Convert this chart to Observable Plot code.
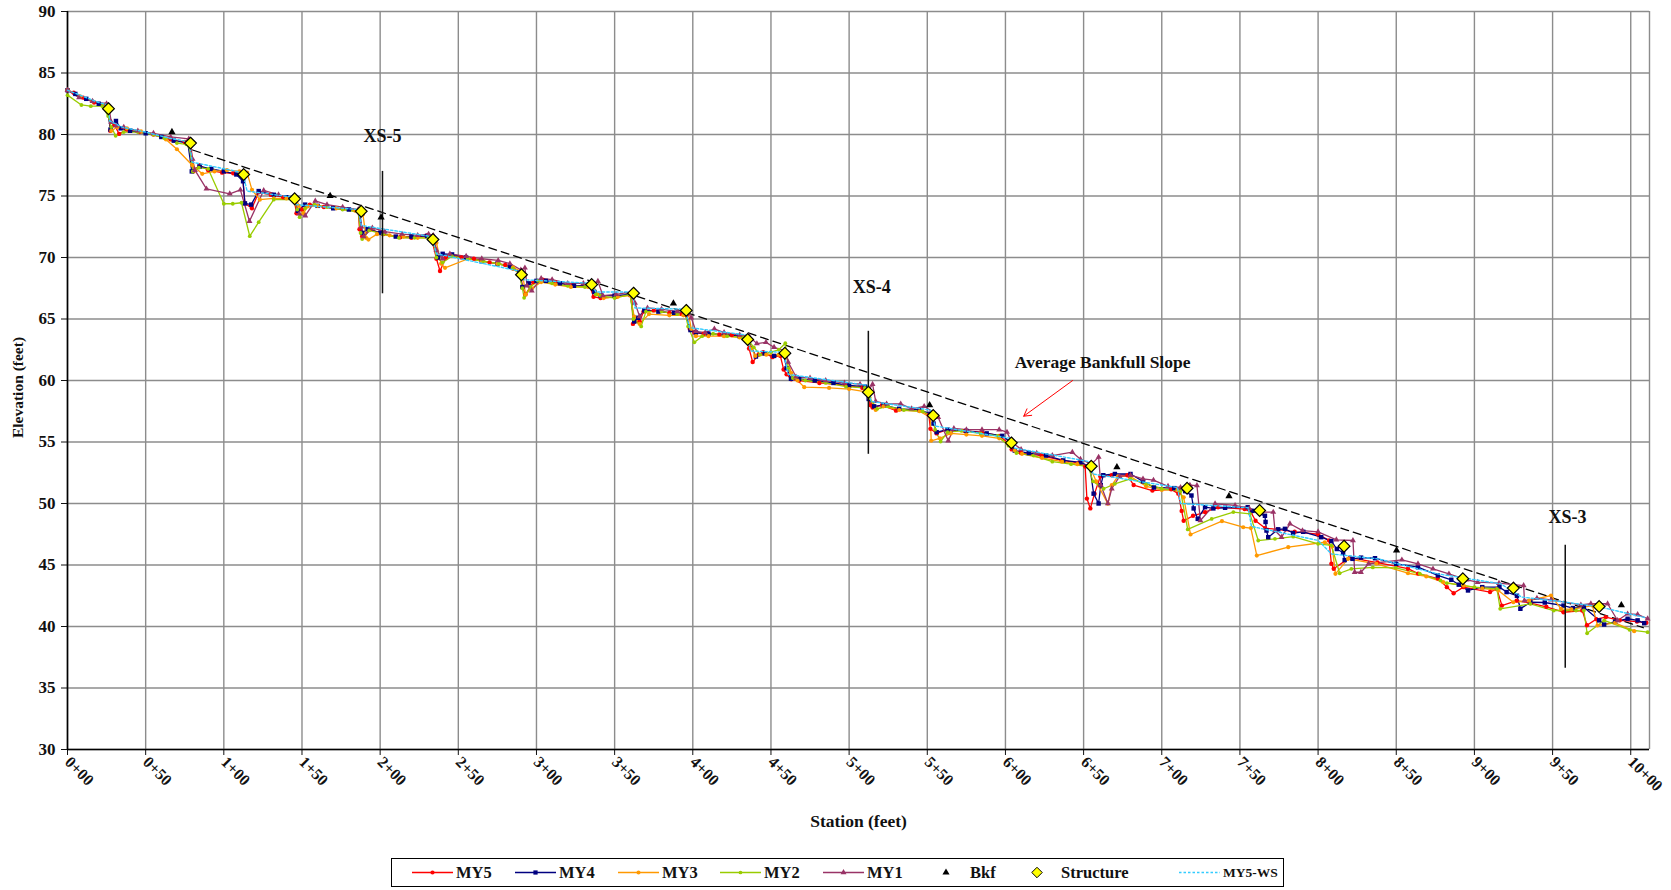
<!DOCTYPE html>
<html>
<head>
<meta charset="utf-8">
<script src="https://cdn.jsdelivr.net/npm/d3@7"></script>
<script src="https://cdn.jsdelivr.net/npm/@observablehq/plot@0.6"></script>
<style>
  html, body { margin: 0; padding: 0; background: #fff; }
  #chart svg { display: block; }
  #legend { margin: 8px 0 0 391px; width: 893px; height: 29px; }
</style>
</head>
<body>
<div id="chart"></div>
<div id="legend"></div>
<script>
// Longitudinal profile survey, station (ft) vs thalweg elevation (ft)
const stationTicks = [0,50,100,150,200,250,300,350,400,450,500,550,600,650,700,750,800,850,900,950,1000];
const stationLabels = ["0+00","0+50","1+00","1+50","2+00","2+50","3+00","3+50","4+00","4+50","5+00","5+50","6+00","6+50","7+00","7+50","8+00","8+50","9+00","9+50","10+00"];
const elevTicks = [30,35,40,45,50,55,60,65,70,75,80,85,90];

const my5 = [[0,83.6],[4,83.4],[10,83.0],[17,82.6],[24,82.4],[26.5,81.9],[27.3,80.3],[30,80.8],[33,80.05],[38,80.4],[46,80.2],[55,80.0],[66,79.6],[75,79.4],[79,79.1],[80.5,77.0],[84.5,77.5],[90,77.1],[98.9,76.9],[106,76.85],[112,76.6],[113.5,74.4],[118,74.0],[122.3,75.3],[130,75.1],[138,74.9],[145,74.7],[146.5,73.6],[150,73.9],[155,74.3],[164,74.1],[176,73.95],[186,73.8],[186.8,72.3],[188.5,71.7],[193.6,72.3],[202,71.9],[212.8,71.65],[220,71.6],[230,71.8],[233,71.5],[236,69.9],[238.3,68.9],[242,70.0],[245,70.2],[252,70.0],[260,69.9],[270,69.6],[280,69.4],[285,69.1],[290,68.6],[291,67.6],[293,67.0],[298,68.0],[304,68.2],[312,68.0],[323,67.7],[334,67.7],[336.5,66.8],[341,66.7],[351,66.8],[361,67.0],[361.7,64.6],[366,64.8],[368.5,65.6],[375,65.7],[385,65.5],[393,65.4],[396,65.3],[398,64.2],[401,63.9],[407,63.8],[417,63.75],[425,63.7],[434,63.5],[436,62.6],[438.3,61.5],[442,62.1],[445,62.3],[451,61.9],[456,62.0],[458.1,60.9],[460,60.5],[463,60.1],[468,60.0],[481,59.8],[498,59.6],[508.5,59.4],[512,59.0],[513.5,58.0],[515,57.8],[521,58.0],[530,57.55],[545,57.6],[551,57.2],[552,56.07],[556,55.7],[562.8,56.0],[574,55.9],[585,55.8],[596,55.5],[602,54.9],[604,54.4],[610,54.1],[623,53.9],[636,53.5],[647,53.3],[651,53.0],[652.1,50.4],[654.3,49.6],[657,50.8],[660.7,52.2],[668,52.3],[678,52.3],[682,51.5],[694,51.05],[706,51.15],[710.6,50.8],[712.7,49.4],[714,48.6],[720,49.0],[727.7,49.3],[736,49.7],[753,49.55],[757,49.3],[760,48.6],[766,48.0],[774,47.9],[785,47.7],[800,47.5],[807,47.0],[808.5,45.1],[810,44.7],[820.3,45.6],[838,45.2],[857.5,44.7],[864,44.3],[876.6,43.9],[882.4,43.2],[886.7,42.7],[893,43.2],[910,42.8],[914.4,43.06],[917.6,41.7],[927,42.1],[936,41.9],[946,41.6],[957,41.16],[969,41.3],[972,40.1],[978,40.6],[984,40.76],[993,40.5],[1004,40.4],[1010,40.3]];

const my4 = [[0,83.6],[5,83.3],[12,82.9],[20,82.5],[25,82.4],[27.5,80.4],[31,81.1],[34,80.5],[40,80.3],[50,80.1],[60,79.8],[68,79.5],[77,79.3],[79.5,77.0],[84.5,77.4],[92,77.2],[100,77.0],[108,76.75],[112.3,76.2],[113.5,74.4],[117.5,74.3],[122.3,75.4],[132,75.1],[140,74.9],[145,74.8],[147.4,73.8],[152,74.3],[160,74.2],[170,74.0],[180,73.9],[187,73.7],[188.5,72.0],[192,72.3],[200,72.0],[210,71.7],[220,71.7],[230,71.75],[233.5,71.4],[237,70.0],[240,70.3],[246,70.25],[255,70.0],[265,69.7],[275,69.5],[283,69.25],[289,68.8],[291,67.6],[295,67.9],[300,68.1],[306,68.1],[315,67.9],[324,67.7],[334,67.7],[337,67.2],[341,66.9],[350,66.9],[360,67.0],[362.5,64.8],[365,65.1],[369,65.7],[378,65.6],[388,65.5],[395,65.5],[398.5,64.1],[402,63.9],[410,63.8],[420,63.7],[430,63.6],[435,63.4],[440.4,61.95],[446,62.2],[452,62.0],[458,62.2],[460,61.0],[462.8,60.14],[468,60.14],[478,60.0],[490,59.8],[500,59.6],[510,59.5],[512.5,58.5],[516,57.9],[522,58.0],[532,57.7],[545,57.6],[552,57.3],[554,56.5],[556,55.8],[563,56.0],[575,55.9],[588,55.7],[598,55.5],[603,55.0],[606,54.3],[615,54.1],[626,53.9],[637,53.5],[648,53.35],[654,53.0],[656.4,50.8],[659.6,50.0],[661,51.5],[662.6,52.3],[670,52.4],[680,52.4],[688,51.8],[695,51.3],[708,51.25],[715,51.0],[719,50.65],[720.4,49.6],[723,48.75],[727.7,49.7],[733,49.6],[740.5,49.65],[755,49.7],[758,49.4],[766,49.0],[766.4,48.5],[767,47.8],[768.1,47.26],[774.5,47.9],[778.8,47.94],[784,47.6],[790.5,47.7],[802,47.26],[808.5,46.94],[812,46.3],[816,46.0],[817,45.4],[822,45.5],[827.5,45.6],[836.4,45.55],[850,45.1],[863.9,44.82],[876.6,44.15],[885.2,43.8],[890,43.4],[895.9,42.93],[905,43.2],[916,43.2],[920.6,42.8],[927.2,42.5],[929.4,41.44],[935.8,41.97],[945,41.95],[957,41.7],[963,41.5],[970,41.57],[979.8,40.5],[983,40.16],[990,40.4],[998,40.63],[1004.4,40.5],[1008.6,40.27]];

const my3 = [[0,83.6],[8,83.1],[16,82.7],[24,82.4],[26,82.0],[28,80.3],[32,80.6],[38,80.5],[47,80.25],[55,80.0],[63,79.6],[70,78.8],[79.8,77.5],[86.2,76.8],[94,77.0],[102,77.1],[110,77.0],[114.9,76.9],[118,75.5],[123,74.7],[132,74.8],[140,74.8],[146,74.9],[148,74.2],[151,73.6],[153.6,74.15],[160,74.2],[172,74.0],[184,73.8],[189,73.5],[191,71.6],[192.5,71.46],[198,71.9],[206,71.8],[215,71.7],[224,71.6],[232,71.6],[236,71.2],[239,69.5],[241.5,69.16],[256.3,69.9],[265,69.7],[275,69.5],[285,69.2],[291,68.8],[293,67.0],[297,67.5],[303,68.0],[312,67.8],[322,67.6],[333,67.6],[336,67.8],[339,67.0],[343,66.7],[352,66.8],[360,66.9],[362.5,65.2],[366,64.6],[372,65.4],[385,65.3],[394,65.3],[397,65.6],[399,64.2],[402,63.6],[410,63.6],[420,63.6],[430,63.5],[435,63.3],[437.5,62.6],[440,62.0],[447,62.1],[455,62.1],[460,62.1],[463,60.6],[467,60.0],[471.3,59.46],[487.2,59.4],[500,59.3],[510,59.1],[513,58.6],[517,57.6],[522,57.9],[532,57.6],[545,57.5],[552,57.0],[552.5,55.1],[558,55.3],[565,55.7],[575,55.6],[585,55.5],[596,55.3],[602,54.8],[606,54.3],[610.6,54.04],[623.4,53.7],[636.2,53.4],[646,53.2],[654,53.0],[658,51.8],[665.5,49.98],[668,51.5],[672,52.2],[680,52.2],[690,51.4],[700,51.1],[710,51.1],[714,50.5],[718.4,47.48],[738.5,48.56],[752.1,48.07],[757,48.0],[760.8,45.77],[780.9,46.45],[804.3,46.85],[809,46.5],[811.1,44.28],[819.2,45.5],[837.3,45.1],[857.5,44.33],[869.2,44.07],[880,43.6],[893.1,43.33],[905,43.1],[915.3,42.93],[924.9,41.97],[935,42.1],[949,42.52],[955.4,41.44],[962,41.4],[975.5,41.7],[978.7,40.08],[990,40.3],[1002.2,39.62]];

const my2 = [[0,83.2],[8.9,82.4],[14.9,82.3],[22.3,82.3],[26,81.5],[28,80.6],[30.8,79.9],[36,80.2],[45,80.2],[55,80.0],[62,79.7],[70,79.3],[76,79.2],[78,79.0],[80.2,76.99],[84,77.3],[90,77.2],[100,74.37],[105.7,74.37],[111.3,74.45],[116.6,71.73],[122.3,72.87],[131.9,74.7],[145,74.7],[147,73.9],[148.5,73.28],[152,74.0],[158,74.3],[166,74.1],[176,73.9],[186,73.7],[187.5,72.0],[188.5,71.5],[193,72.2],[202,71.9],[212,71.6],[222,71.6],[231,71.6],[234,71.4],[236,70.0],[240,69.6],[246,70.1],[256,69.9],[266,69.7],[276,69.5],[285,69.1],[289,68.7],[291,67.5],[292.1,66.72],[296,67.6],[301,68.1],[310,67.9],[320,67.7],[331,67.6],[335,67.6],[338,67.0],[341,66.9],[350,66.7],[360,67.0],[362,65.0],[367,64.4],[370,65.6],[380,65.6],[390,65.4],[395,65.5],[397,64.4],[401,63.1],[406,63.6],[413,63.8],[422,63.6],[432,63.5],[436,63.2],[439,62.7],[443,62.1],[450,62.3],[455,62.5],[459.2,63.03],[461,61.0],[464,60.2],[472,60.0],[485,59.8],[498,59.5],[510,59.4],[513,58.6],[518,57.7],[525,57.9],[535,57.6],[547,57.5],[553,57.1],[555,56.0],[558.5,55.04],[563,55.8],[572,55.9],[584,55.7],[595,55.5],[602,54.7],[607,54.1],[618,53.9],[630,53.4],[642,53.2],[653,53.0],[656,51.8],[662.8,51.2],[670,51.6],[680,52.0],[690,51.6],[700,51.2],[712,51.0],[716.6,47.89],[731.9,48.75],[745.8,49.3],[756.4,49.16],[761.7,46.99],[772.4,47.13],[784.1,47.3],[800,46.72],[808.5,46.59],[813.8,44.33],[821.3,44.69],[835,44.8],[849.7,44.77],[865,44.3],[878.3,43.74],[882.4,43.52],[900,43.2],[914.4,43.06],[916.5,41.44],[935.8,41.84],[950.7,41.3],[965,41.3],[970,41.3],[972.1,39.45],[983,40.49],[999.2,39.73],[1010.8,39.54]];

const my1 = [[0,83.6],[7.4,83.0],[16,82.7],[25,82.5],[26.5,82.2],[28,81.0],[31,80.7],[36,80.6],[45,80.3],[55,80.1],[66,79.8],[77.6,79.65],[80,78.0],[81.5,77.1],[88.9,75.58],[103.8,75.18],[110.6,75.5],[116.4,72.95],[125.5,75.45],[135,75.1],[145,74.8],[148.3,73.55],[152.1,73.4],[158.5,74.6],[166,74.3],[176,74.1],[186,73.9],[188,72.5],[189.5,71.7],[195,72.4],[203,72.1],[214,71.9],[224,71.8],[231,71.9],[234,71.8],[236,70.6],[240,69.9],[244.6,70.3],[255,70.1],[265,69.9],[275.5,69.76],[283,69.5],[290,69.0],[292.6,69.16],[294,67.7],[297,67.3],[303,68.3],[310,68.2],[320,67.9],[330,67.9],[335,67.8],[339.3,68.07],[342.5,66.9],[351,67.0],[361,67.2],[363,66.3],[366,65.2],[371,65.9],[380,65.8],[390,65.6],[396,65.8],[399,65.1],[402,64.0],[408,63.9],[413.8,64.2],[420,63.9],[430,63.7],[436,63.6],[441,63.0],[446.8,63.1],[452,62.7],[459,62.4],[461,61.5],[466,60.3],[475,60.2],[485,60.0],[497,59.8],[507,59.7],[513,59.3],[515,59.7],[517,58.3],[524,58.1],[533,58.1],[540,57.7],[548,57.9],[554,57.4],[557,57.0],[563.4,55.1],[567,56.1],[575,56.0],[585,56.0],[596,56.0],[601,55.8],[604,55.0],[610,54.4],[620,54.1],[630,53.9],[642.8,54.17],[648,53.6],[655,53.2],[659.6,53.77],[661,51.5],[665.5,50.0],[668,51.2],[673,52.2],[680,52.3],[688,52.0],[694.7,51.9],[704,51.4],[712,51.3],[718,51.5],[722.5,51.46],[724.7,48.62],[734.1,49.98],[746.9,49.84],[756,49.6],[763.8,49.3],[771.3,49.3],[772.4,47.8],[776.6,47.26],[782,48.35],[790,47.8],[800,47.7],[811.7,47.05],[822.3,46.99],[823.4,44.41],[827.4,44.41],[832.3,45.1],[853.6,45.42],[863.9,45.1],[873.5,44.69],[883.7,44.28],[895,43.8],[902.1,43.6],[915.7,43.52],[925,43.4],[931.5,43.33],[932,42.11],[940,42.3],[949,42.17],[968.1,41.76],[974.5,41.85],[985.2,41.85],[991.6,40.49],[998,41.03],[1004.4,40.98],[1010.8,40.63]];

// Water surface, year 5
const my5ws = [[0,83.6],[10,83.1],[20,82.6],[26,82.4],[27,81.1],[35,80.6],[50,80.2],[65,79.7],[78,79.4],[79.8,77.75],[112,76.9],[114.9,75.4],[144.6,74.9],[146,74.3],[186,73.9],[188,72.6],[233,71.7],[236,70.3],[289,68.9],[291,68.2],[335,67.9],[338,67.2],[361,67.2],[363,65.9],[395,65.8],[398,64.3],[434,63.7],[437,62.4],[458,62.3],[461,60.5],[512,59.6],[514,58.3],[552,57.6],[555,56.3],[603,55.3],[606,54.5],[654,53.4],[656,52.4],[710,51.3],[712,50.0],[755.3,49.65],[757.4,48.13],[800,47.0],[808.5,45.9],[838.3,45.5],[876.6,44.28],[916.9,43.47],[930,42.4],[957,42.0],[980,41.6],[1000,41.0],[1010,40.7]];

// Bankfull indicators and grade-control structures
const bkf = [[66.8,80.2],[168,75.0],[200.6,73.25],[387.6,66.26],[551.5,58.0],[671.3,52.95],[743,50.6],[850.2,46.18],[994,41.73]];
const structures = [[26.2,82.1],[78.7,79.3],[112.7,76.75],[145.3,74.77],[187.9,73.76],[233.8,71.46],[290.4,68.6],[335.3,67.8],[362.1,67.1],[395.8,65.7],[435.1,63.33],[458.9,62.22],[512.3,59.05],[553.8,57.15],[603.8,54.93],[654.9,53.03],[716.2,51.24],[762.6,49.43],[816.6,46.53],[892.6,43.88],[924.9,43.12],[979.8,41.63]];

// Average bankfull slope line
const slopeLine = [[80,78.74],[1008,39.9]];

// Cross-section locations
const xsNames = ["XS-5","XS-4","XS-3"];
const xsStations = [201.5,512.3,958.1];
const xsLabelStations = [201.5,514.5,959.5];
const xsTop = [77.0,64.0,46.6];
const xsBottom = [67.05,54.0,36.6];
const xsLabelElev = [79.85,67.55,48.85];

const pt = a => a.map(([s,e]) => ({s,e}));
const labelOf = new Map(stationTicks.map((t,i) => [t, stationLabels[i]]));

const series = [
  {name:"MY5", data: my5, color:"#ff0000", symbol:"circle", r:2.2},
  {name:"MY4", data: my4, color:"#000080", symbol:"square", r:2.5},
  {name:"MY3", data: my3, color:"#ff9900", symbol:"circle", r:2.1},
  {name:"MY2", data: my2, color:"#99cc00", symbol:"circle", r:1.9},
  {name:"MY1", data: my1, color:"#993366", symbol:"triangle", r:2.2}
];

const xsData = xsNames.map((n,i) => ({n, s: xsStations[i], ls: xsLabelStations[i], top: xsTop[i], bot: xsBottom[i], ly: xsLabelElev[i]}));

const gridColor = "#8c8c8c";
const marks = [
  Plot.gridY(elevTicks, {stroke: gridColor, strokeOpacity: 1, strokeWidth: 1.4}),
  Plot.gridX(stationTicks, {stroke: gridColor, strokeOpacity: 1, strokeWidth: 1.4}),
  Plot.ruleX([1012], {stroke: gridColor, strokeWidth: 1.4}),
  Plot.axisY({ticks: elevTicks, tickSize: 6, tickPadding: 6, label: null, fontSize: 17}),
  Plot.axisX({ticks: stationTicks, tickSize: 6, tickPadding: 4, tickRotate: 45, label: null, fontSize: 16,
              tickFormat: d => labelOf.get(d)}),
  Plot.ruleX([0], {stroke: "#000", strokeWidth: 1.6}),
  Plot.ruleY([30], {stroke: "#000", strokeWidth: 1.6}),
  Plot.line(pt(slopeLine), {x: "s", y: "e", stroke: "#000", strokeWidth: 1.3, strokeDasharray: "8,5"})
];
for (const sr of series) {
  marks.push(Plot.line(pt(sr.data), {x: "s", y: "e", stroke: sr.color, strokeWidth: 1.3}));
}
for (const sr of series) {
  marks.push(Plot.dot(pt(sr.data), {x: "s", y: "e", fill: sr.color, stroke: "none", symbol: sr.symbol, r: sr.r}));
}
marks.push(
  Plot.line(pt(my5ws), {x: "s", y: "e", stroke: "#33ccff", strokeWidth: 1.4, strokeDasharray: "2.5,2"}),
  Plot.ruleX(xsData, {x: "s", y1: "top", y2: "bot", stroke: "#111", strokeWidth: 1.5}),
  Plot.text(xsData, {x: "ls", y: "ly", text: "n", fontSize: 18, fontWeight: "bold", fill: "#111"}),
  Plot.dot(pt(bkf), {x: "s", y: "e", symbol: "triangle", r: 2.7, fill: "#000", stroke: "none"}),
  Plot.dot(pt(structures), {x: "s", y: "e", symbol: "diamond2", r: 5.3, fill: "#ffff00", stroke: "#000", strokeWidth: 1.2}),
  Plot.arrow([{x1: 643, y1: 60.0, x2: 611.7, y2: 57.1}], {x1: "x1", y1: "y1", x2: "x2", y2: "y2", stroke: "#ff0000", strokeWidth: 1, headLength: 12}),
  Plot.text(["Average Bankfull Slope"], {x: 606, y: 61.45, textAnchor: "start", fontSize: 17.5, fontWeight: "bold", fill: "#111"}),
  Plot.text(["Elevation (feet)"], {frameAnchor: "left", textAnchor: "middle", lineAnchor: "middle", dx: -49, dy: 7, rotate: -90, fontSize: 15.5, fontWeight: "bold", fill: "#111"}),
  Plot.text(["Station (feet)"], {frameAnchor: "bottom", textAnchor: "middle", lineAnchor: "middle", dy: 72, fontSize: 17.5, fontWeight: "bold", fill: "#111"})
);

const chart = Plot.plot({
  width: 1671,
  height: 850,
  marginLeft: 67,
  marginRight: 22,
  marginTop: 11,
  marginBottom: 101,
  x: {domain: [0, 1012]},
  y: {domain: [30, 90]},
  style: {fontFamily: "'Liberation Serif', 'Times New Roman', serif", fontWeight: "bold", fontSize: "16px", color: "#111", background: "#fff"},
  marks
});
document.getElementById("chart").append(chart);

// Legend strip below the chart
const legendItems = [
  {label: "MY5", type: "line", color: "#ff0000", symbol: d3.symbolCircle, size: 14, x: 21},
  {label: "MY4", type: "line", color: "#000080", symbol: d3.symbolSquare, size: 18, x: 124},
  {label: "MY3", type: "line", color: "#ff9900", symbol: d3.symbolCircle, size: 13, x: 227},
  {label: "MY2", type: "line", color: "#99cc00", symbol: d3.symbolCircle, size: 11, x: 329},
  {label: "MY1", type: "line", color: "#993366", symbol: d3.symbolTriangle, size: 15, x: 432},
  {label: "Bkf", type: "mark", color: "#000", symbol: d3.symbolTriangle, size: 22, x: 555},
  {label: "Structure", type: "mark", color: "#ffff00", symbol: d3.symbolDiamond2, size: 70, x: 646},
  {label: "MY5-WS", type: "dash", color: "#33ccff", x: 788, size: 13.5}
];
const lg = d3.select("#legend").append("svg").attr("width", 893).attr("height", 29)
  .style("display", "block")
  .style("font-family", "'Liberation Serif', 'Times New Roman', serif")
  .style("font-weight", "bold").style("font-size", "16.5px");
lg.append("rect").attr("x", 0.5).attr("y", 0.5).attr("width", 892).attr("height", 28)
  .attr("fill", "#fff").attr("stroke", "#000");
for (const it of legendItems) {
  const g = lg.append("g");
  let tx;
  if (it.type === "line" || it.type === "dash") {
    g.append("line").attr("x1", it.x).attr("x2", it.x + 41).attr("y1", 14.5).attr("y2", 14.5)
      .attr("stroke", it.color).attr("stroke-width", 1.4)
      .attr("stroke-dasharray", it.type === "dash" ? "2.5,2" : null);
    if (it.symbol) g.append("path").attr("d", d3.symbol(it.symbol, it.size)())
      .attr("transform", `translate(${it.x + 20.5},14.5)`).attr("fill", it.color);
    tx = it.x + 44;
  } else {
    g.append("path").attr("d", d3.symbol(it.symbol, it.size)())
      .attr("transform", `translate(${it.x},14.5)`).attr("fill", it.color)
      .attr("stroke", it.label === "Structure" ? "#000" : "none").attr("stroke-width", 1);
    tx = it.x + 24;
  }
  const t = g.append("text").attr("x", tx).attr("y", 14.5).attr("dy", "0.35em").attr("fill", "#111").text(it.label);
  if (it.type === "dash") t.style("font-size", it.size + "px");
}
</script>
</body>
</html>
